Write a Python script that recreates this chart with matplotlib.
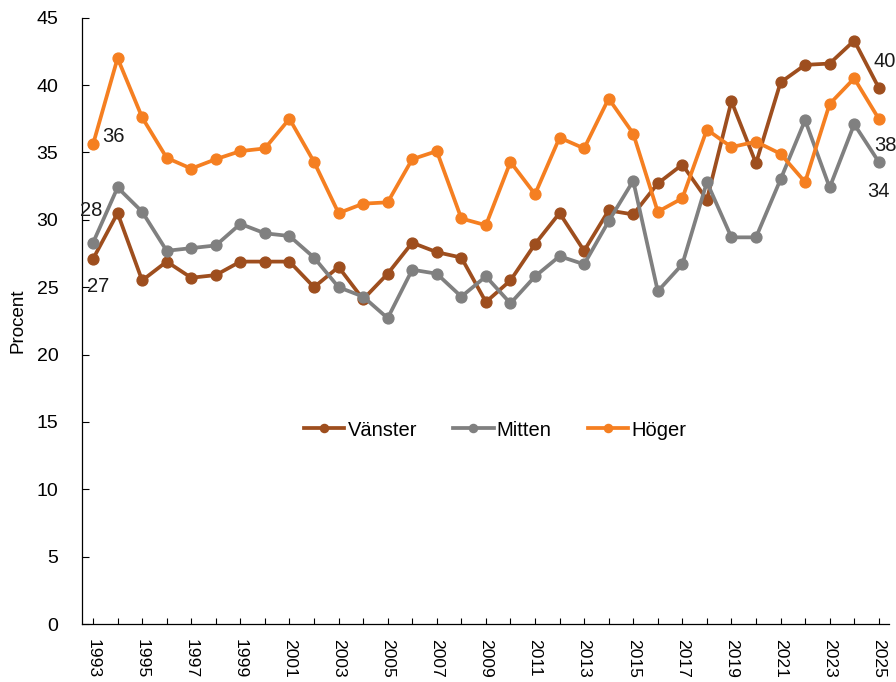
import matplotlib.pyplot as plt
import numpy as np

plt.rcParams['font.family'] = ['Liberation Sans', 'DejaVu Sans']

years = list(range(1993, 2026))
vanster = [27.1, 30.5, 25.5, 26.9, 25.7, 25.9, 26.9, 26.9, 26.9, 25.0, 26.5,
           24.1, 26.0, 28.3, 27.6, 27.2, 23.9, 25.5, 28.2, 30.5, 27.7, 30.7,
           30.4, 32.7, 34.1, 31.5, 38.8, 34.2, 40.2, 41.5, 41.6, 43.3, 39.8]
mitten = [28.3, 32.4, 30.6, 27.7, 27.9, 28.1, 29.7, 29.0, 28.8, 27.2, 25.0,
          24.3, 22.7, 26.3, 26.0, 24.3, 25.8, 23.8, 25.8, 27.3, 26.7, 29.9,
          32.9, 24.7, 26.7, 32.8, 28.7, 28.7, 33.0, 37.4, 32.4, 37.1, 34.3]
hoger = [35.6, 42.0, 37.6, 34.6, 33.8, 34.5, 35.1, 35.3, 37.5, 34.3, 30.5,
         31.2, 31.3, 34.5, 35.1, 30.1, 29.6, 34.3, 31.9, 36.1, 35.3, 39.0,
         36.4, 30.6, 31.6, 36.7, 35.4, 35.8, 34.9, 32.8, 38.6, 40.5, 37.5]

c_v = '#9E4E1E'
c_m = '#808080'
c_h = '#F57F21'
txt = '#1a1a1a'

fig = plt.figure(figsize=(8.96, 6.82), dpi=100)
ax = fig.add_axes([0.0915, 0.085, 0.9005, 0.889])

kw = dict(linewidth=2.7, marker='o', markersize=7.8)
ax.plot(years, vanster, color=c_v, label='Vänster', **kw)
ax.plot(years, mitten, color=c_m, label='Mitten', **kw)
ax.plot(years, hoger, color=c_h, label='Höger', **kw)

# labels at first and last year
fs = 14.5
def lab(x, y, dx, dy):
    ax.annotate(f'{y:.0f}', (x, y), xytext=(dx, dy), textcoords='offset points',
                ha='center', va='center', fontsize=fs, color=txt)

lab(years[0], hoger[0], 15, 6)
lab(years[0], mitten[0], -1.5, 23)
lab(years[0], vanster[0], 3.6, -20)
lab(years[-1], vanster[-1], 4.5, 19)
lab(years[-1], hoger[-1], 5, -19)
lab(years[-1], mitten[-1], -0.5, -21.5)

ax.set_xlim(1992.55, 2025.41)
ax.set_ylim(0, 45)
ax.set_yticks(np.arange(0, 46, 5))
ax.set_xticks(years, minor=True)
ax.set_xticks(years[::2])
ax.set_xticklabels([str(y) for y in years[::2]], rotation=270)
ax.tick_params(axis='x', which='both', direction='in', length=4, width=0.8,
               labelsize=12.6, pad=11)
ax.tick_params(axis='y', direction='in', length=5, width=0.8, labelsize=14, pad=17)
for s in ['top', 'right']:
    ax.spines[s].set_visible(False)
for s in ['left', 'bottom']:
    ax.spines[s].set_linewidth(0.9)

ax.set_ylabel('Procent', fontsize=13.5, labelpad=7)

ax.legend(loc='center', bbox_to_anchor=(0.512, 0.32), ncol=3, frameon=False,
          fontsize=14.5, handlelength=2.0, handletextpad=0.15, columnspacing=1.8,
          markerscale=0.75)

fig.savefig('out.png', dpi=100)
